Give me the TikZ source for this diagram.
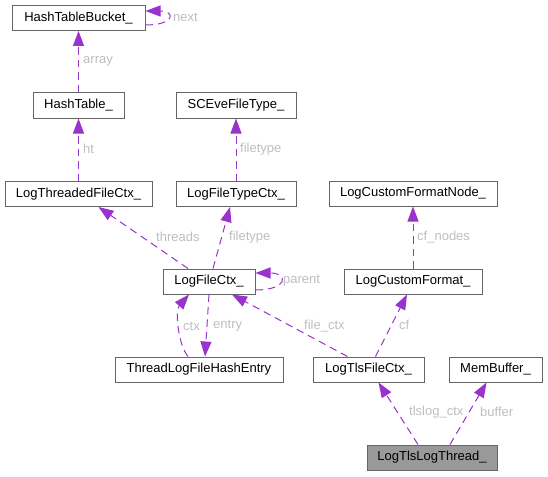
\documentclass[tikz,border=0pt]{standalone}
\usepackage{fontspec}
\setmainfont{Liberation Sans}
\usetikzlibrary{arrows.meta,calc}
\definecolor{edgec}{HTML}{9A32CD}
\definecolor{boxc}{HTML}{666666}
\definecolor{labc}{HTML}{BEBEBE}
\definecolor{hlc}{HTML}{999999}
\tikzset{
  box/.style={draw=boxc, line width=1pt, fill=white, minimum height=25pt, inner sep=0pt, font=\fontsize{13}{15}\selectfont, text=black},
  hlbox/.style={box, fill=hlc},
  edge/.style={draw=edgec, line width=1pt, dash pattern=on 7.5pt off 5pt, -{Triangle[length=15pt,width=11pt]}},
  lab/.style={anchor=west, inner sep=0pt, text=labc, font=\fontsize{13}{15}\selectfont}
}
\begin{document}
\begin{tikzpicture}[x=1pt,y=-1pt]
\useasboundingbox (0,0) rectangle (548,476);
% nodes
\node[box, minimum width=133pt] (htb) at (78.5,18) {HashTableBucket\_};
\node[box, minimum width=91pt] (ht) at (78.5,105.5) {HashTable\_};
\node[box, minimum width=120pt] (sce) at (236,105.5) {SCEveFileType\_};
\node[box, minimum width=147pt] (ltfc) at (78.5,194) {LogThreadedFileCtx\_};
\node[box, minimum width=120pt] (lftc) at (236,194) {LogFileTypeCtx\_};
\node[box, minimum width=168pt] (lcfn) at (413,193.5) {LogCustomFormatNode\_};
\node[box, minimum width=92pt] (lfc) at (209,281.5) {LogFileCtx\_};
\node[box, minimum width=138pt] (lcf) at (413,281.5) {LogCustomFormat\_};
\node[box, minimum width=168pt] (tlfhe) at (199,369.5) {ThreadLogFileHashEntry};
\node[box, minimum width=111pt] (ltfc2) at (368.5,369.5) {LogTlsFileCtx\_};
\node[box, minimum width=93pt] (mb) at (495.5,369.5) {MemBuffer\_};
\node[hlbox, minimum width=130pt] (ltlt) at (432,457.5) {LogTlsLogThread\_};
% edges
\draw[edge] (ht.north) -- (htb.south);
\draw[edge] ([yshift=-7pt]htb.east) .. controls +(30,0) and +(30,0) .. ([yshift=7pt]htb.east);
\draw[edge] (ltfc.north) -- (ht.south);
\draw[edge] (lftc.north) -- (sce.south);
\draw[edge] ([xshift=-21pt]lfc.north) -- ([xshift=20pt]ltfc.south);
\draw[edge] ([xshift=4pt]lfc.north) -- ([xshift=-6pt]lftc.south);
\draw[edge] ([yshift=-8.5pt]lfc.east) .. controls +(33,0) and +(33,0) .. ([yshift=8.5pt]lfc.east);
\draw[edge] ([xshift=-11pt]tlfhe.north) .. controls +(-10,-12) and +(-14,16) .. ([xshift=-20pt]lfc.south);
\draw[edge] (lfc.south) -- ([xshift=6pt]tlfhe.north);
\draw[edge] ([xshift=-21pt]ltfc2.north) -- ([xshift=23pt]lfc.south);
\draw[edge] ([xshift=7pt]ltfc2.north) -- ([xshift=-6pt]lcf.south);
\draw[edge] (lcf.north) -- (lcfn.south);
\draw[edge] ([xshift=-14pt]ltlt.north) -- ([xshift=10pt]ltfc2.south);
\draw[edge] ([xshift=18pt]ltlt.north) -- ([xshift=-9pt]mb.south);
% labels
\node[lab] (l1) at (173,17) {next};
\node[lab] (l2) at (83,61) {array};
\node[lab] (l3) at (83,149) {ht};
\node[lab] (l4) at (240,149) {filetype};
\node[lab] (l5) at (156,237) {threads};
\node[lab] (l6) at (229,237) {filetype};
\node[lab] (l7) at (417,237) {cf\_nodes};
\node[lab] (l8) at (283,281) {parent};
\node[lab] (l9) at (183,326) {ctx};
\node[lab] (l10) at (213,326) {entry};
\node[lab] (l11) at (304,326) {file\_ctx};
\node[lab] (l12) at (399,325) {cf};
\node[lab] (l13) at (409,412) {tlslog\_ctx};
\node[lab] (l14) at (480,412) {buffer};
\end{tikzpicture}
\end{document}
